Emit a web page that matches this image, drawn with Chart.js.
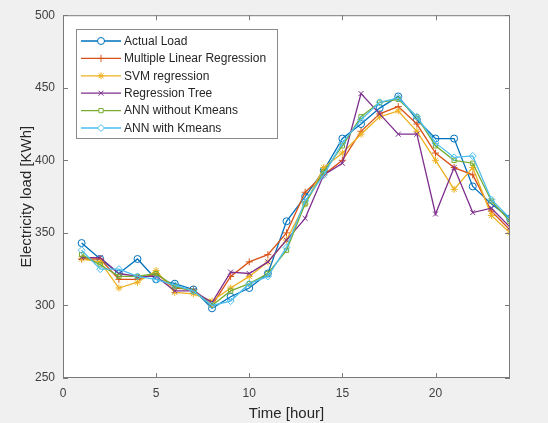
<!DOCTYPE html>
<html>
<head>
<meta charset="utf-8">
<script src="https://cdn.jsdelivr.net/npm/chart.js@4.4.1/dist/chart.umd.min.js"></script>
<style>
html, body { margin: 0; padding: 0; background: #f0f0f0; }
</style>
</head>
<body>
<canvas id="loadChart" width="548" height="423"></canvas>
<script>
const hours = [1, 2, 3, 4, 5, 6, 7, 8, 9, 10, 11, 12, 13, 14, 15, 16, 17, 18, 19, 20, 21, 22, 23, 24];
const actualLoad = [343, 332, 322, 332, 318, 315, 311, 298, 306, 312, 322, 358, 375, 393, 415, 425, 436, 444, 428, 415, 415, 382, 370, 360];
const mlrLoad = [332, 332, 318, 318, 322, 312, 311, 300, 320, 330, 335, 350, 378, 390, 400, 420, 432, 437, 425, 405, 395, 390, 365, 352];
const svmLoad = [332, 330, 312, 316, 324, 309, 308, 303, 312, 320, 330, 345, 370, 395, 405, 418, 430, 434, 420, 400, 380, 395, 362, 350];
const treeLoad = [333, 333, 322, 320, 320, 310, 310, 302, 323, 322, 330, 345, 360, 390, 398, 446, 432, 418, 418, 363, 395, 364, 367, 354];
const annLoad = [335, 328, 320, 320, 322, 313, 310, 300, 310, 315, 322, 338, 370, 392, 410, 430, 440, 442, 430, 410, 400, 398, 372, 358];
const annKmLoad = [338, 325, 325, 320, 318, 314, 310, 300, 303, 315, 320, 340, 372, 390, 412, 428, 440, 443, 430, 412, 402, 403, 373, 360];

const seriesNames = ['Actual Load', 'Multiple Linear Regression', 'SVM regression', 'Regression Tree', 'ANN without Kmeans', 'ANN with Kmeans'];
const xTicks = [0, 5, 10, 15, 20];
const yTicks = [250, 300, 350, 400, 450, 500];

const colors = ['#0072BD', '#D95319', '#EDB120', '#7E2F8E', '#77AC30', '#4DBEEE'];
const markers = ['circle', 'cross', 'star', 'crossRot', 'rect', 'rectRot'];
const sizes = [3.5, 3.5, 3.5, 3.5, 3, 3.5];
const allSeries = [actualLoad, mlrLoad, svmLoad, treeLoad, annLoad, annKmLoad];

const datasets = allSeries.map(function (values, i) {
    return {
        label: seriesNames[i],
        data: hours.map(function (h, j) { return { x: h, y: values[j] }; }),
        borderColor: colors[i],
        backgroundColor: 'rgba(0,0,0,0)',
        borderWidth: 1.3,
        pointStyle: markers[i],
        pointRadius: sizes[i],
        pointBorderWidth: 1,
        pointBorderColor: colors[i],
        pointBackgroundColor: 'rgba(0,0,0,0)',
        tension: 0,
        order: 5 - i
    };
});

// white axes background + box with inward ticks
const axesBox = {
    id: 'axesBox',
    beforeDraw(chart) {
        const a = chart.chartArea;
        const ctx = chart.ctx;
        ctx.save();
        ctx.fillStyle = '#ffffff';
        ctx.fillRect(a.left, a.top, a.right - a.left, a.bottom - a.top);
        ctx.restore();
    },
    afterDraw(chart) {
        const a = chart.chartArea;
        const ctx = chart.ctx;
        const xs = chart.scales.x, ys = chart.scales.y;
        ctx.save();
        ctx.strokeStyle = '#7a7a7a';
        ctx.lineWidth = 1;
        ctx.strokeRect(a.left + 0.5, a.top + 0.5, a.right - a.left - 1, a.bottom - a.top - 1);
        ctx.beginPath();
        xs.ticks.forEach(function (t) {
            const px = Math.round(xs.getPixelForValue(t.value)) + 0.5;
            ctx.moveTo(px, a.bottom); ctx.lineTo(px, a.bottom - 5);
            ctx.moveTo(px, a.top); ctx.lineTo(px, a.top + 5);
        });
        ys.ticks.forEach(function (t) {
            const py = Math.round(ys.getPixelForValue(t.value)) + 0.5;
            ctx.moveTo(a.left, py); ctx.lineTo(a.left + 5, py);
            ctx.moveTo(a.right, py); ctx.lineTo(a.right - 5, py);
        });
        ctx.stroke();
        ctx.restore();
    }
};

// MATLAB-like legend box inside the axes
const innerLegend = {
    id: 'innerLegend',
    afterDatasetsDraw(chart) {
        const ctx = chart.ctx;
        const left = 76, top = 29, w = 201, h = 109;
        ctx.save();
        ctx.fillStyle = '#ffffff';
        ctx.fillRect(left, top, w, h);
        ctx.strokeStyle = '#8a8a8a';
        ctx.lineWidth = 1;
        ctx.strokeRect(left + 0.5, top + 0.5, w, h);
        ctx.font = '12px "Liberation Sans", Arial, sans-serif';
        ctx.textBaseline = 'middle';
        chart.data.datasets.forEach(function (ds, i) {
            const y = top + 12 + i * 17.4;
            ctx.strokeStyle = ds.borderColor;
            ctx.lineWidth = 1.3;
            ctx.beginPath();
            ctx.moveTo(81, y);
            ctx.lineTo(121, y);
            ctx.stroke();
            ctx.fillStyle = '#ffffff';
            ctx.lineWidth = 1;
            Chart.helpers.drawPoint(ctx, {
                pointStyle: ds.pointStyle,
                radius: ds.pointRadius,
                borderWidth: 1,
                rotation: 0
            }, 101, y);
            ctx.fillStyle = '#262626';
            ctx.fillText(ds.label, 124, y + 0.5);
        });
        ctx.restore();
    }
};

new Chart(document.getElementById('loadChart').getContext('2d'), {
    type: 'line',
    data: { datasets: datasets },
    options: {
        responsive: false,
        animation: false,
        layout: { padding: { left: 0, right: 38, top: 15, bottom: 0 } },
        plugins: {
            legend: { display: false },
            tooltip: { enabled: false }
        },
        scales: {
            x: {
                type: 'linear',
                min: 0,
                max: 24,
                afterBuildTicks: function (scale) {
                    scale.ticks = xTicks.map(function (v) { return { value: v }; });
                },
                afterFit: function (scale) { scale.height = 45; },
                grid: { display: false, drawTicks: false },
                border: { display: false },
                ticks: {
                    color: '#404040',
                    padding: 8,
                    maxRotation: 0,
                    font: { family: '"Liberation Sans", Arial, sans-serif', size: 12 }
                },
                title: {
                    display: true,
                    text: 'Time [hour]',
                    color: '#262626',
                    padding: { top: 0, bottom: 0 },
                    font: { family: '"Liberation Sans", Arial, sans-serif', size: 15 }
                }
            },
            y: {
                type: 'linear',
                min: 250,
                max: 500,
                afterBuildTicks: function (scale) {
                    scale.ticks = yTicks.map(function (v) { return { value: v }; });
                },
                afterFit: function (scale) { scale.width = 63; },
                grid: { display: false, drawTicks: false },
                border: { display: false },
                ticks: {
                    color: '#404040',
                    padding: 8,
                    font: { family: '"Liberation Sans", Arial, sans-serif', size: 12 }
                },
                title: {
                    display: true,
                    text: 'Electricity load [KWh]',
                    color: '#262626',
                    padding: { top: 18, bottom: 0 },
                    font: { family: '"Liberation Sans", Arial, sans-serif', size: 15 }
                }
            }
        }
    },
    plugins: [axesBox, innerLegend]
});
</script>
</body>
</html>
